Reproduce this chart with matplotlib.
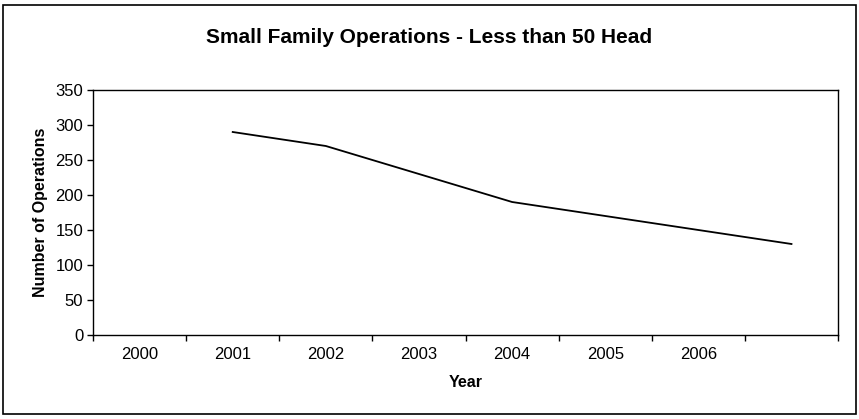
import numpy as np
import matplotlib.pyplot as plt
from matplotlib.patches import Rectangle

plt.rcParams['font.family'] = ['Liberation Sans', 'DejaVu Sans']

# Data (2000 has no value, last category unlabeled)
years = ['2000', '2001', '2002', '2003', '2004', '2005', '2006', '']
operations = [np.nan, 290, 270, 230, 190, 170, 150, 130]

fig = plt.figure(figsize=(8.59, 4.19), dpi=100)
ax = fig.add_axes([0.1083, 0.2005, 0.8673, 0.5847])

x = np.arange(len(years))
ax.plot(x, operations, color='black', linewidth=1.3)

ax.set_xlim(-0.5, len(years) - 0.5)
ax.set_ylim(0, 350)
ax.set_yticks(np.arange(0, 351, 50))

# category boundaries carry the tick marks, labels sit in the middle
ax.set_xticks(np.arange(-0.5, len(years), 1.0))
ax.set_xticklabels([])
ax.set_xticks(x, minor=True)
ax.set_xticklabels(years, minor=True)
ax.tick_params(axis='x', which='major', direction='out', length=4, width=1)
ax.tick_params(axis='x', which='minor', length=0, pad=9, labelsize=12)
ax.tick_params(axis='y', direction='out', length=4, width=1, labelsize=12, pad=3)

for side in ax.spines.values():
    side.set_linewidth(1.0)

ax.set_xlabel('Year', fontsize=11.5, fontweight='bold', labelpad=9)
ax.set_ylabel('Number of Operations', fontsize=11.5, fontweight='bold', labelpad=5)
fig.text(0.5, 0.897, 'Small Family Operations - Less than 50 Head',
         ha='center', va='baseline', fontsize=15, fontweight='bold')

# chart frame
fig.patches.append(Rectangle((0.004, 0.012), 0.992, 0.976, transform=fig.transFigure,
                             fill=False, edgecolor='black', linewidth=1.2))

fig.savefig('out.png', dpi=100)
